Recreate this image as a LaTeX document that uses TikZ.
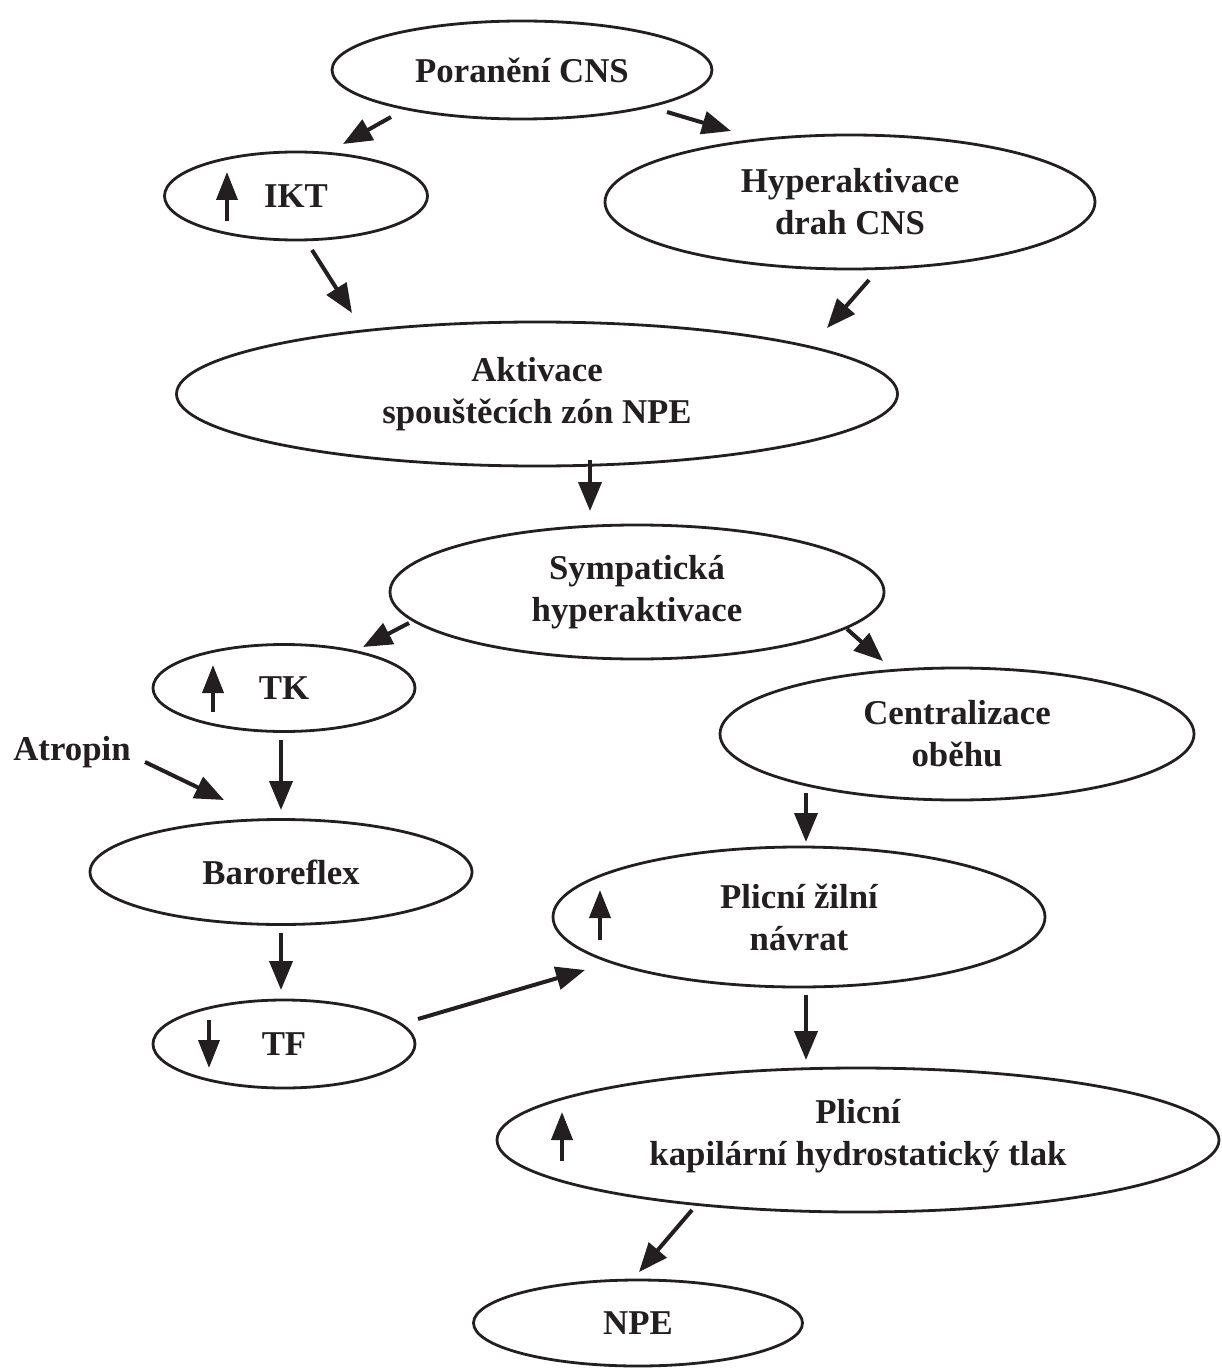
\documentclass[tikz,border=0pt]{standalone}
\usepackage{fontspec}
\setmainfont{Liberation Serif}
\usetikzlibrary{shapes.geometric,arrows.meta,calc}
\definecolor{ink}{HTML}{231F20}
\begin{document}
\begin{tikzpicture}[x=0.5pt,y=-0.5pt,
  oval/.style={draw=ink, line width=1.4pt, ellipse, inner sep=0pt, align=center,
               font=\bfseries\fontsize{17.4}{21}\selectfont, text=ink},
  flow/.style={draw=ink, line width=2pt, -{Triangle[length=14.5pt,width=11.5pt]}},
  trend/.style={draw=ink, line width=2pt, -{Triangle[length=14pt,width=10.5pt]}}
]
\useasboundingbox (0,0) rectangle (1221,1369);

% nodes of the cascade
\node[oval, minimum width=190pt,   minimum height=49pt]   (por) at (522,70)   {Poranění CNS};
\node[oval, minimum width=131.5pt, minimum height=44pt]   (ikt) at (296,196)  {IKT};
\node[oval, minimum width=245pt,   minimum height=67pt]   (hyp) at (850,202)  {Hyperaktivace\\drah CNS};
\node[oval, minimum width=360.5pt, minimum height=72pt]   (akt) at (537,394)  {Aktivace\\spouštěcích zón NPE};
\node[oval, minimum width=247pt,   minimum height=67pt]   (sym) at (637,592)  {Sympatická\\hyperaktivace};
\node[oval, minimum width=131pt,   minimum height=43.5pt] (tk)  at (284,688)  {TK};
\node[oval, minimum width=237pt,   minimum height=66pt]   (cen) at (957,734)  {Centralizace\\oběhu};
\node[oval, minimum width=191pt,   minimum height=52.5pt] (bar) at (281,872)  {Baroreflex};
\node[oval, minimum width=246pt,   minimum height=70pt]   (zil) at (799,917)  {Plicní žilní\\návrat};
\node[oval, minimum width=131pt,   minimum height=44pt]   (tf)  at (284,1044) {TF};
\node[oval, minimum width=361pt,   minimum height=72pt]   (kap) at (858,1140) {Plicní\\kapilární hydrostatický tlak\rule[-8pt]{0pt}{0pt}};
\node[oval, minimum width=164.5pt, minimum height=43pt]   (npe) at (638,1323) {NPE};
\node[font=\bfseries\fontsize{17.4}{21}\selectfont, text=ink, inner sep=0pt] (atr) at (72,752) {Atropin};

% rise / fall markers inside the ovals
\draw[trend] ($(ikt)+(-69,25)$) -- ($(ikt)+(-69,-24)$);
\draw[trend] ($(tk)+(-71,24)$)  -- ($(tk)+(-71,-23)$);
\draw[trend] ($(tf)+(-75,-24)$) -- ($(tf)+(-75,24)$);
\draw[trend] ($(zil)+(-199,23)$) -- ($(zil)+(-199,-27)$);
\draw[trend] ($(kap)+(-296,21)$) -- ($(kap)+(-296,-28)$);

% connectors
\draw[flow] ($(por)+(-131,47)$) -- ($(ikt)+(47,-52)$);
\draw[flow] ($(por)+(145,42)$)  -- ($(hyp)+(-119,-71)$);
\draw[flow] ($(ikt)+(16,54)$)   -- ($(akt)+(-185,-81)$);
\draw[flow] ($(hyp)+(19,78)$)   -- ($(akt)+(290,-66)$);
\draw[flow] ($(akt)+(53,66)$)   -- ($(sym)+(-47,-81)$);
\draw[flow] ($(sym)+(-228,31)$) -- ($(tk)+(79,-41)$);
\draw[flow] ($(sym)+(210,37)$)  -- ($(cen)+(-74,-73)$);
\draw[flow] ($(tk)+(-3,52)$)    -- ($(bar)+(0,-62)$);
\draw[flow] ($(atr)+(73,10)$)   -- ($(bar)+(-57,-72)$);
\draw[flow] ($(bar)+(0,61)$)    -- ($(tf)+(-3,-54)$);
\draw[flow] ($(cen)+(-151,59)$) -- ($(zil)+(7,-75)$);
\draw[flow] ($(tf)+(134,-25)$)  -- ($(zil)+(-214,53)$);
\draw[flow] ($(zil)+(7,78)$)    -- ($(kap)+(-52,-80)$);
\draw[flow] ($(kap)+(-166,70)$) -- ($(npe)+(1,-51)$);
\end{tikzpicture}
\end{document}
